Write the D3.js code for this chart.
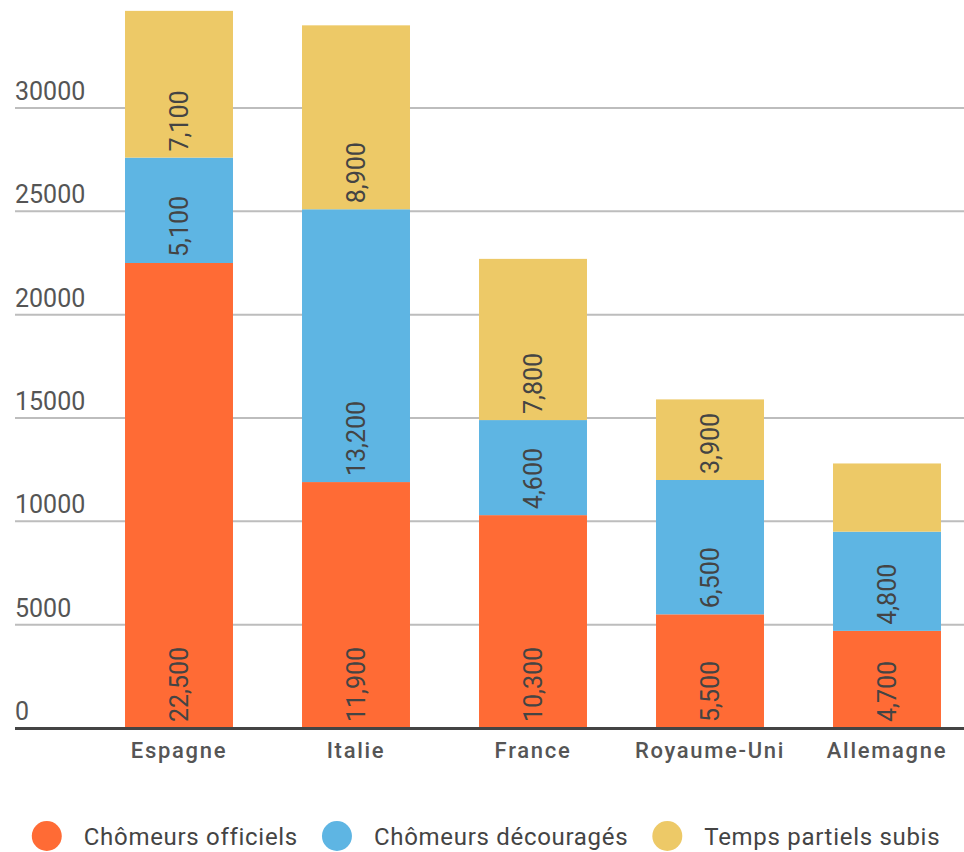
<!DOCTYPE html>
<html>
<head>
<meta charset="utf-8">
<script src="https://cdn.jsdelivr.net/npm/d3@7"></script>
<style>
  html, body { margin: 0; padding: 0; background: #fff; }
  svg { display: block; font-family: Roboto, "Noto Sans", sans-serif; }
</style>
</head>
<body>
<svg id="chart" width="964" height="852"></svg>
<script>
// Pays et séries (milliers de personnes)
const countries = ["Espagne", "Italie", "France", "Royaume-Uni", "Allemagne"];
const seriesNames = ["Chômeurs officiels", "Chômeurs découragés", "Temps partiels subis"];
const officiels   = [22500, 11900, 10300, 5500, 4700];
const decourages  = [5100, 13200, 4600, 6500, 4800];
const partiels    = [7100, 8900, 7800, 3900, 3300];
// Segments dont la valeur n'est pas affichée
const unlabeled   = [["Allemagne", "Temps partiels subis"]];
const yTicks      = [0, 5000, 10000, 15000, 20000, 25000, 30000];
const colors      = ["#FF6B35", "#5EB5E3", "#EDC967"];

const svg = d3.select("#chart");
const W = 964;

const rows = countries.map((c, i) => ({
  country: c,
  "Chômeurs officiels": officiels[i],
  "Chômeurs découragés": decourages[i],
  "Temps partiels subis": partiels[i]
}));
const stacked = d3.stack().keys(seriesNames)(rows);

const x = d3.scaleBand()
  .domain(countries)
  .range([90.5, 975.5])
  .paddingInner(0.39)
  .paddingOuter(0.195);

const y = d3.scaleLinear().domain([0, 30000]).range([728, 108]);
const color = d3.scaleOrdinal().domain(seriesNames).range(colors);
const fmt = d3.format(",");

// Grille horizontale
const grid = svg.append("g");
grid.selectAll("line")
  .data(yTicks.filter(t => t > 0))
  .join("line")
  .attr("x1", 15).attr("x2", W)
  .attr("y1", d => y(d)).attr("y2", d => y(d))
  .attr("stroke", "#bdbdbd").attr("stroke-width", 2);

// Libellés de l'axe vertical
svg.append("g").selectAll("text")
  .data(yTicks)
  .join("text")
  .attr("x", 15)
  .attr("y", d => y(d) - 8)
  .attr("font-size", 25)
  .attr("fill", "#555")
  .text(d => d);

// Barres empilées
const layers = svg.append("g").selectAll("g")
  .data(stacked)
  .join("g")
  .attr("fill", d => color(d.key));

layers.selectAll("rect")
  .data(d => d)
  .join("rect")
  .attr("x", d => x(d.data.country))
  .attr("width", x.bandwidth())
  .attr("y", d => y(d[1]))
  .attr("height", d => y(d[0]) - y(d[1]));

// Valeurs dans les segments, lues de bas en haut
const isHidden = (country, key) => unlabeled.some(u => u[0] === country && u[1] === key);
const labels = svg.append("g");
stacked.forEach(layer => {
  layer.forEach(d => {
    if (isHidden(d.data.country, layer.key)) return;
    const cx = x(d.data.country) + x.bandwidth() / 2;
    const by = y(d[0]) - 6;
    labels.append("text")
      .attr("transform", `translate(${cx},${by}) rotate(-90)`)
      .attr("dy", "0.355em")
      .attr("font-size", 25)
      .attr("fill", "#444")
      .attr("text-anchor", "start")
      .text(fmt(d[1] - d[0]));
  });
});

// Ligne de base
svg.append("line")
  .attr("x1", 15).attr("x2", W)
  .attr("y1", y(0) + 0.5).attr("y2", y(0) + 0.5)
  .attr("stroke", "#444").attr("stroke-width", 3);

// Axe des catégories
const xAxis = d3.axisBottom(x).tickSize(0).tickPadding(0);
const gx = svg.append("g").attr("transform", `translate(0,${y(0)})`).call(xAxis);
gx.select(".domain").remove();
gx.selectAll("text")
  .attr("y", 30)
  .attr("dy", 0)
  .attr("font-family", "Roboto, sans-serif")
  .attr("font-size", 22)
  .attr("font-weight", 500)
  .attr("letter-spacing", 1.7)
  .attr("fill", "#555");

// Légende centrée
const legend = svg.append("g");
let cursor = 0;
seriesNames.forEach((name, i) => {
  const item = legend.append("g").attr("transform", `translate(${cursor},0)`);
  item.append("circle").attr("cx", 15).attr("cy", 0).attr("r", 15).attr("fill", color(name));
  const t = item.append("text")
    .attr("x", 52).attr("y", 9)
    .attr("font-size", 24)
    .attr("letter-spacing", 0.7)
    .attr("fill", "#444")
    .text(name);
  cursor += 52 + t.node().getComputedTextLength() + 24;
});
const legendWidth = cursor - 24;
legend.attr("transform", `translate(${(W - legendWidth) / 2 + 4},836)`);
</script>
</body>
</html>
